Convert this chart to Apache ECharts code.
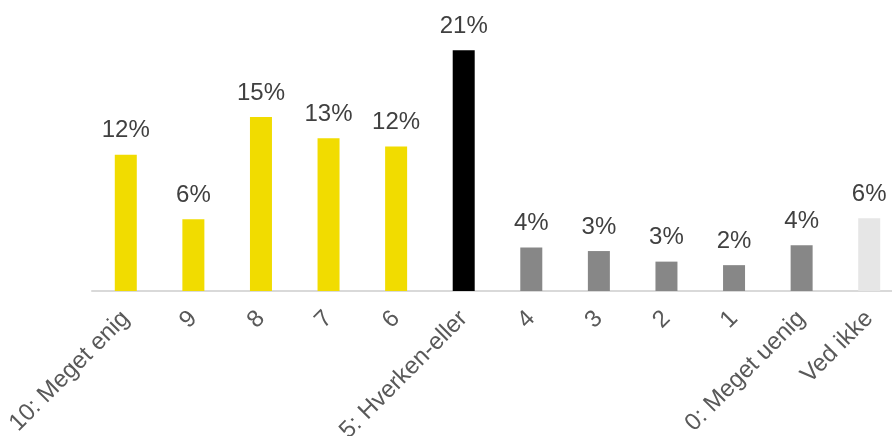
<!DOCTYPE html>
<html>
<head>
<meta charset="utf-8">
<script src="https://cdn.jsdelivr.net/npm/echarts@6/dist/echarts.min.js"></script>
<style>html,body{margin:0;padding:0;background:#fff}#c{width:892px;height:436px}</style>
</head>
<body>
<div id="c"></div>
<script>
const categories = ["10: Meget enig", "9", "8", "7", "6", "5: Hverken-eller", "4", "3", "2", "1", "0: Meget uenig", "Ved ikke"];
const values = [11.6, 6.1, 14.8, 13.0, 12.3, 20.5, 3.7, 3.4, 2.5, 2.2, 3.9, 6.2];
const groups = ["enig", "enig", "enig", "enig", "enig", "neutral", "uenig", "uenig", "uenig", "uenig", "uenig", "vedikke"];
const groupColors = { enig: "#f1dc00", neutral: "#000000", uenig: "#878787", vedikke: "#e6e6e6" };

const chart = echarts.init(document.getElementById('c'), null, { renderer: 'canvas' });
chart.setOption({
  animation: false,
  grid: { left: 92, width: 811, top: 9, height: 282, containLabel: false, outerBoundsMode: 'none' },
  xAxis: {
    type: 'category',
    data: categories,
    axisLine: { show: true, lineStyle: { color: '#d9d9d9', width: 2 } },
    axisTick: { show: false },
    axisLabel: {
      interval: 0, rotate: 45, margin: 24,
      fontFamily: 'Liberation Sans, Arial, sans-serif', fontSize: 24, color: '#595959'
    }
  },
  yAxis: { type: 'value', min: 0, max: 24, show: false, splitLine: { show: false } },
  series: [{
    type: 'bar',
    barWidth: 22,
    data: values.map((v, i) => ({ value: v, itemStyle: { color: groupColors[groups[i]] } })),
    label: {
      show: true, position: 'top', distance: 12,
      fontFamily: 'Liberation Sans, Arial, sans-serif', fontSize: 24, color: '#404040',
      formatter: p => Math.round(p.value) + '%'
    }
  }]
});
</script>
</body>
</html>
